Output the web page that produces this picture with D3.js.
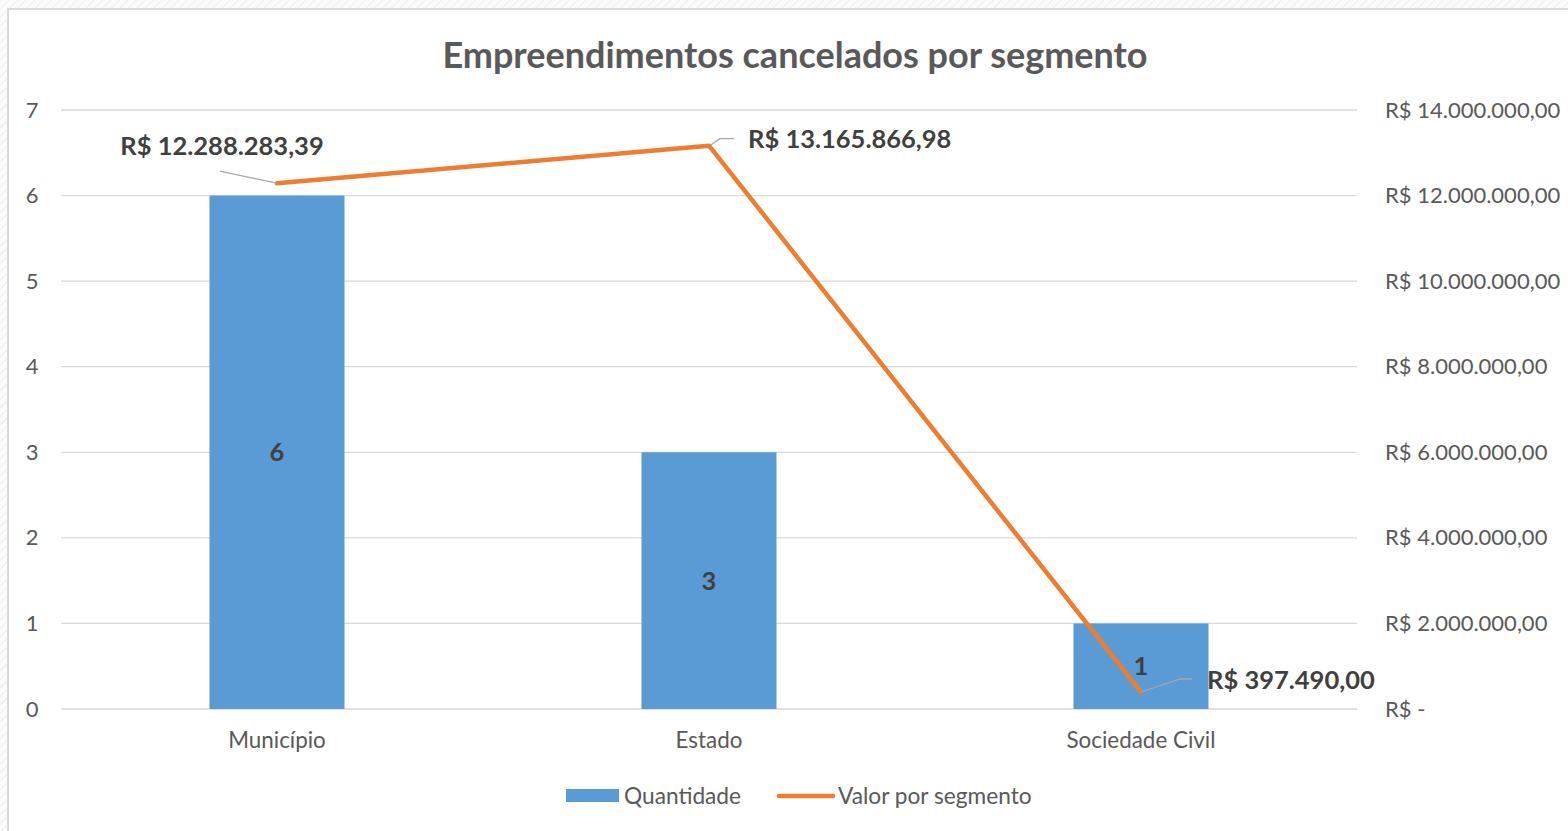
<!DOCTYPE html>
<html><head><meta charset="utf-8">
<script src="https://cdn.jsdelivr.net/npm/d3@7"></script>
<style>html,body{margin:0;padding:0;background:#fff;overflow:hidden}</style>
</head><body>
<script>
const categories = ["Município", "Estado", "Sociedade Civil"];
const quantidade = [6, 3, 1];
const valores = [12288283.39, 13165866.98, 397490.00];
const valorLabels = ["R$ 12.288.283,39", "R$ 13.165.866,98", "R$ 397.490,00"];
const leftTicks = [0, 1, 2, 3, 4, 5, 6, 7];
const rightTicks = [0, 2000000, 4000000, 6000000, 8000000, 10000000, 12000000, 14000000];
const rightTickLabels = ["R$ -", "R$ 2.000.000,00", "R$ 4.000.000,00", "R$ 6.000.000,00", "R$ 8.000.000,00", "R$ 10.000.000,00", "R$ 12.000.000,00", "R$ 14.000.000,00"];
const title = "Empreendimentos cancelados por segmento";
const seriesNames = ["Quantidade", "Valor por segmento"];

const W = 1568, H = 831;
const font = "Lato, 'Open Sans', sans-serif";
const svg = d3.select("body").append("svg").attr("width", W).attr("height", H);

// hatched background outside chart
const defs = svg.append("defs");
const pat = defs.append("pattern").attr("id", "hatch").attr("width", 6).attr("height", 6)
  .attr("patternUnits", "userSpaceOnUse").attr("patternTransform", "rotate(45)");
pat.append("rect").attr("width", 6).attr("height", 6).attr("fill", "#fbfbfb");
pat.append("line").attr("x1", 0).attr("y1", 0).attr("x2", 0).attr("y2", 6).attr("stroke", "#ececec").attr("stroke-width", 2);
svg.append("rect").attr("width", W).attr("height", H).attr("fill", "url(#hatch)");
svg.append("rect").attr("x", 8).attr("y", 9).attr("width", W + 10).attr("height", H + 10)
  .attr("fill", "#fff").attr("stroke", "#d9d9d9").attr("stroke-width", 2);

const plot = {left: 61, right: 1357, top: 110, bottom: 709};
const x = d3.scaleBand().domain(categories).range([plot.left, plot.right]).padding(0);
const yL = d3.scaleLinear().domain([0, 7]).range([plot.bottom, plot.top]);
const yR = d3.scaleLinear().domain([0, 14000000]).range([plot.bottom, plot.top]);
const barW = x.bandwidth() * 0.3125;
const cx = c => x(c) + x.bandwidth() / 2;

// gridlines
svg.append("g").selectAll("line").data(leftTicks).join("line")
  .attr("x1", plot.left).attr("x2", plot.right)
  .attr("y1", d => yL(d)).attr("y2", d => yL(d))
  .attr("stroke", "#d9d9d9").attr("stroke-width", 1.3);

// left axis
const axL = d3.axisLeft(yL).tickValues(leftTicks).tickSize(0).tickPadding(0).tickFormat(d3.format("d"));
const gL = svg.append("g").attr("transform", `translate(32,0)`).call(axL);
gL.select(".domain").remove();
gL.selectAll("text").attr("font-family", font).attr("font-size", 22).attr("fill", "#595959")
  .attr("text-anchor", "middle");

// right axis
const axR = d3.axisRight(yR).tickValues(rightTicks).tickSize(0).tickPadding(0)
  .tickFormat((d, i) => rightTickLabels[i]);
const gR = svg.append("g").attr("transform", `translate(1385,0)`).call(axR);
gR.select(".domain").remove();
gR.selectAll("text").attr("font-family", font).attr("font-size", 22).attr("fill", "#595959");

// x axis labels
const axX = d3.axisBottom(x).tickSize(0).tickPadding(0);
const gX = svg.append("g").attr("transform", `translate(0,${plot.bottom + 23})`).call(axX);
gX.select(".domain").remove();
gX.selectAll("text").attr("font-family", font).attr("font-size", 22.4).attr("fill", "#595959");

// bars
svg.append("g").selectAll("rect").data(quantidade).join("rect")
  .attr("x", (d, i) => cx(categories[i]) - barW / 2)
  .attr("y", d => yL(d)).attr("width", barW)
  .attr("height", d => yL(0) - yL(d)).attr("fill", "#5b9bd5");

// bar labels
svg.append("g").selectAll("text").data(quantidade).join("text")
  .attr("x", (d, i) => cx(categories[i])).attr("y", d => yL(d / 2))
  .attr("dy", "0.35em").attr("text-anchor", "middle")
  .attr("font-family", font).attr("font-size", 25.5).attr("font-weight", "bold").attr("fill", "#404040")
  .text(d => d);

// line
const pts = valores.map((v, i) => [cx(categories[i]), yR(v)]);
svg.append("path").attr("d", d3.line()(pts)).attr("fill", "none")
  .attr("stroke", "#ed7d31").attr("stroke-width", 4.5).attr("stroke-linejoin", "round").attr("stroke-linecap", "round");

// leader lines
const leaders = [
  [[0, 0], [-57, -12]],
  [[2, -1], [11, -7], [25, -7]],
  [[0, 0], [39, -13], [51, -13]]
];
leaders.forEach((l, i) => {
  const [px, py] = pts[i];
  svg.append("path").attr("d", d3.line()(l.map(q => [px + q[0], py + q[1]])))
    .attr("fill", "none").attr("stroke", "#a6a6a6").attr("stroke-width", 1.3);
});
const lbl = [
  {x: pts[0][0] - 55, y: pts[0][1] - 37, a: "middle"},
  {x: pts[1][0] + 39, y: pts[1][1] - 7, a: "start"},
  {x: pts[2][0] + 66, y: pts[2][1] - 12, a: "start"}
];
svg.append("g").selectAll("text").data(valorLabels).join("text")
  .attr("x", (d, i) => lbl[i].x).attr("y", (d, i) => lbl[i].y).attr("dy", "0.35em")
  .attr("text-anchor", (d, i) => lbl[i].a)
  .attr("font-family", font).attr("font-size", 25.5).attr("font-weight", "bold").attr("fill", "#404040")
  .text(d => d);

// title
svg.append("text").attr("x", 795).attr("y", 55).attr("dy", "0.35em").attr("text-anchor", "middle")
  .attr("font-family", font).attr("font-size", 36).attr("font-weight", "bold").attr("fill", "#595959")
  .text(title);

// legend
const lg = svg.append("g");
lg.append("rect").attr("x", 566).attr("y", 789).attr("width", 53).attr("height", 13).attr("fill", "#5b9bd5");
lg.append("text").attr("x", 624).attr("y", 796).attr("dy", "0.35em").attr("font-family", font)
  .attr("font-size", 22.7).attr("fill", "#595959").text(seriesNames[0]);
lg.append("line").attr("x1", 779).attr("x2", 833).attr("y1", 796).attr("y2", 796)
  .attr("stroke", "#ed7d31").attr("stroke-width", 4.5).attr("stroke-linecap", "round");
lg.append("text").attr("x", 838).attr("y", 796).attr("dy", "0.35em").attr("font-family", font)
  .attr("font-size", 22.7).attr("fill", "#595959").text(seriesNames[1]);
</script>
</body></html>
